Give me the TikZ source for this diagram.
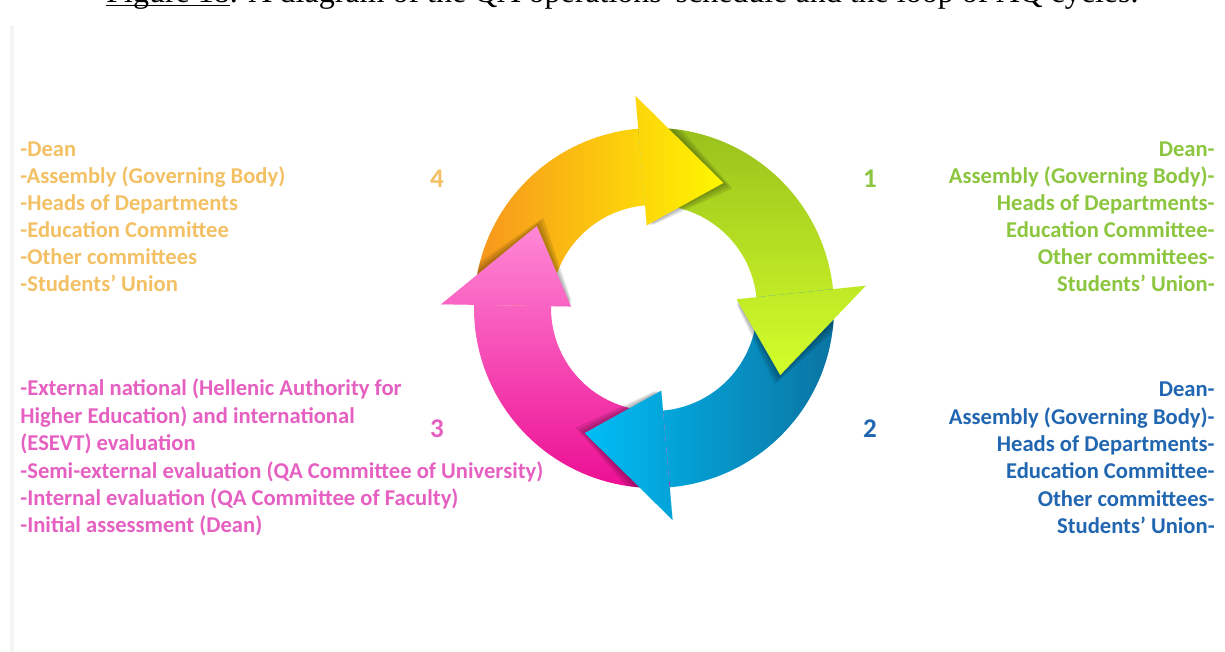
\documentclass[tikz,border=0pt]{standalone}
\usepackage{fontspec}
\setmainfont{Carlito}
\newfontfamily\capfont{Liberation Serif}

\definecolor{txtorange}{HTML}{F3C064}
\definecolor{txtgreen}{HTML}{8CC63F}
\definecolor{txtpink}{HTML}{E660C2}
\definecolor{txtblue}{HTML}{2066B0}
\definecolor{arOrange}{HTML}{F7951D}
\definecolor{arYellowMid}{HTML}{FFE400}
\definecolor{arYellow}{HTML}{FFF700}
\definecolor{arOlive}{HTML}{97BF1C}
\definecolor{arLime}{HTML}{D4FF2A}
\definecolor{arCyan}{HTML}{00BDF5}
\definecolor{arTeal}{HTML}{0B72A0}
\definecolor{arPinkLight}{HTML}{FF88D6}
\definecolor{arMagenta}{HTML}{EC0C92}

% full outline of one ring arrow: body from angle #1 to #2 (clockwise), head at #2
\newcommand\ringarrowpath[3]{%
  \shade[#3] (#1:180) arc[start angle=#1, end angle=#2, radius=180]
    -- (#2:213) -- ({#2-34}:143) -- (#2:83) -- (#2:103)
    arc[start angle=#2, end angle=#1, radius=103] -- cycle;}

% body part only (clipped to the wedge of the body)
\newcommand\ringbody[3]{%
  \begin{scope}
    \clip (0,0) -- (#1:400) arc[start angle=#1, end angle=#2, radius=400] -- cycle;
    \ringarrowpath{#1}{#2}{#3}
  \end{scope}}

% head part with its soft shadow
\newcommand\ringhead[3]{%
  \begin{scope}
    \clip (0,0) circle[radius=180];
    \foreach \k in {1,2,3}{
      \fill[black, opacity=0.1, rotate=-1.4*\k]
        (#2:213) -- ({#2-34}:143) -- (#2:83) -- cycle;}
  \end{scope}
  \begin{scope}
    \clip (0,0) -- (#2:400) arc[start angle=#2, end angle={#2-45}, radius=400] -- cycle;
    \ringarrowpath{#1}{#2}{#3}
  \end{scope}}

\tikzset{
  itemtxt/.style={inner sep=0pt, font=\fontsize{11.3}{13.5}\selectfont\bfseries},
  numtxt/.style={inner sep=0pt, font=\fontsize{13.5}{15}\selectfont\bfseries},
  captxt/.style={inner sep=0pt, font=\capfont\fontsize{16}{18}\selectfont}
}

\begin{document}
\begin{tikzpicture}[x=0.5pt,y=0.5pt]
\useasboundingbox (0,0) rectangle (1225,652);
\clip (0,0) rectangle (1225,652);
\fill[white] (0,0) rectangle (1225,652);

% faint frame edge on the left
\fill[black!4] (10,0) rectangle (14,627);

% caption running off the top edge
\node[captxt, anchor=base west] (caption) at (106,649.5)
  {\underline{\smash{Figure 18}}. A diagram of the QA operations' schedule and the loop of AQ cycles.};

% the cycle of four arrows
\begin{scope}[shift={(654,344)}]
  \ringbody{179}{95}{left color=arOrange, middle color=arYellowMid, right color=arYellow}
  \ringbody{95}{6}{top color=arOlive, bottom color=arLime}
  \ringbody{6}{-85}{left color=arCyan, right color=arTeal}
  \ringbody{275}{179}{top color=arPinkLight, bottom color=arMagenta}
  \ringhead{179}{95}{left color=arOrange, middle color=arYellowMid, right color=arYellow}
  \ringhead{95}{6}{top color=arOlive, bottom color=arLime}
  \ringhead{6}{-85}{left color=arCyan, right color=arTeal}
  \ringhead{275}{179}{top color=arPinkLight, bottom color=arMagenta}
\end{scope}

% step numbers
\node[numtxt, text=txtorange, anchor=base] (n4) at (437,464) {4};
\node[numtxt, text=txtgreen,  anchor=base] (n1) at (870,464) {1};
\node[numtxt, text=txtpink,   anchor=base] (n3) at (437,214) {3};
\node[numtxt, text=txtblue,   anchor=base] (n2) at (870,214) {2};

% step 4 participants
\foreach \t [count=\i] in {-Dean, -Assembly (Governing Body), -Heads of Departments,
    -Education Committee, -Other committees, -Students’ Union}
  \node[itemtxt, text=txtorange, anchor=base west] (four\i) at (20,{495-27*(\i-1)}) {\t};

% step 1 participants
\foreach \t [count=\i] in {Dean-, Assembly (Governing Body)-, Heads of Departments-,
    Education Committee-, Other committees-, Students’ Union-}
  \node[itemtxt, text=txtgreen, anchor=base east] (one\i) at (1215,{495-27*(\i-1)}) {\t};

% step 3 evaluations
\foreach \t [count=\i] in {-External national (Hellenic Authority for,
    Higher Education) and international, (ESEVT) evaluation,
    -Semi-external evaluation (QA Committee of University),
    -Internal evaluation (QA Committee of Faculty), -Initial assessment (Dean)}
  \node[itemtxt, text=txtpink, anchor=base west] (three\i) at (20,{256-27.4*(\i-1)}) {\t};

% step 2 participants
\foreach \t [count=\i] in {Dean-, Assembly (Governing Body)-, Heads of Departments-,
    Education Committee-, Other committees-, Students’ Union-}
  \node[itemtxt, text=txtblue, anchor=base east] (two\i) at (1215,{255-27.3*(\i-1)}) {\t};
\end{tikzpicture}
\end{document}
